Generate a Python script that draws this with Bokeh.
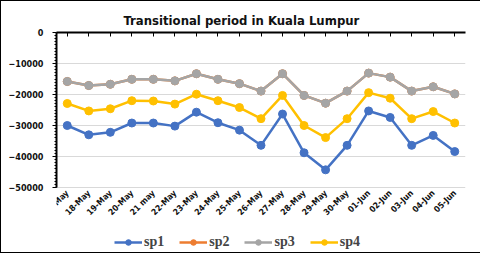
from math import pi
from bokeh.plotting import figure
from bokeh.models import (FactorRange, Range1d, CategoricalAxis, LinearAxis, Legend, LegendItem,
                          SingleIntervalTicker, FixedTicker, Title)
from bokeh.embed import file_html
from bokeh.resources import INLINE

dates = ["17-May", "18-May", "19-May", "20-May", "21 may", "22-May", "23-May", "24-May",
         "25-May", "26-May", "27-May", "28-May", "29-May", "30-May", "01-Jun", "02-Jun",
         "03-Jun", "04-Jun", "05-Jun"]
sp1 = [-30000, -33000, -32200, -29200, -29200, -30200, -25700, -29100, -31500, -36400,
       -26300, -38800, -44300, -36400, -25300, -27400, -36400, -33200, -38400]
sp3 = [-15800, -17100, -16700, -15100, -15100, -15600, -13300, -15100, -16500, -18900,
       -13300, -20300, -22800, -18900, -13100, -14400, -18900, -17500, -19800]
sp2 = list(sp3)
sp4 = [-22900, -25300, -24600, -22000, -22100, -23100, -19900, -22000, -24200, -27800,
       -20300, -30000, -33900, -27800, -19400, -21200, -27800, -25500, -29200]
series = [("sp1", sp1, "#4472C4"), ("sp2", sp2, "#ED7D31"),
          ("sp3", sp3, "#A5A5A5"), ("sp4", sp4, "#FFC000")]
yticks = [0, -10000, -20000, -30000, -40000, -50000]
y_min, y_max = -50000, 0

COND = "DejaVu Sans Condensed"

# the plotted value band (0 .. -50000) occupies the top 155 px of a 220 px frame;
# the lower part of the frame holds the legend
FRAME_H, DATA_H = 220, 155
y_start = y_min * FRAME_H / DATA_H

p = figure(frame_width=409, frame_height=FRAME_H, output_backend="svg", toolbar_location=None,
           x_range=FactorRange(factors=dates, range_padding=0),
           y_range=Range1d(y_start, y_max),
           min_border_left=55, min_border_right=16, min_border_top=31, min_border_bottom=0,
           x_axis_location=None, y_axis_location=None)
p.outline_line_color = None
p.background_fill_color = "white"
p.border_fill_color = "white"
p.styles = {"border": "1px solid black", "box-sizing": "border-box"}

p.title = Title(text="Transitional period in Kuala Lumpur", align="left",
                text_font=COND, text_font_size="13px", text_font_style="bold",
                text_color="#111111", offset=67, standoff=9)

yax = LinearAxis(ticker=SingleIntervalTicker(interval=10000, num_minor_ticks=10),
                 bounds=(y_min, y_max))
yax.axis_line_width = 2
yax.axis_line_color = "black"
yax.major_tick_line_color = "black"
yax.major_tick_out = 4
yax.major_tick_in = 0
yax.minor_tick_out = 2
yax.minor_tick_in = 0
yax.minor_tick_line_color = "black"
yax.major_label_text_font = COND
yax.major_label_text_font_style = "bold"
yax.major_label_text_font_size = "9px"
yax.major_label_text_color = "#111111"
yax.major_label_standoff = 9
p.add_layout(yax, "left")

top = CategoricalAxis()
top.axis_line_width = 2
top.axis_line_color = "black"
top.major_tick_in = 4
top.major_tick_out = 0
top.major_tick_line_color = "black"
top.major_label_text_font_size = "0px"
top.major_label_text_color = None
top.major_label_standoff = 0
p.add_layout(top, "above")

bot = CategoricalAxis(fixed_location=y_min)
bot.axis_line_color = None
bot.major_tick_line_color = None
bot.major_tick_out = 0
bot.major_label_orientation = pi / 4
bot.major_label_text_font = COND
bot.major_label_text_font_style = "bold"
bot.major_label_text_font_size = "8.5px"
bot.major_label_text_color = "#111111"
bot.major_label_standoff = 4
p.add_layout(bot, "below")

p.xgrid.visible = False
p.ygrid.grid_line_color = "#d9d9d9"
p.ygrid.ticker = FixedTicker(ticks=yticks)

items = []
for name, vals, col in series:
    r1 = p.line(dates, vals, line_color=col, line_width=2.5)
    r2 = p.scatter(dates, vals, size=8, fill_color=col, line_color=col)
    items.append(LegendItem(label=name, renderers=[r1, r2]))

leg = Legend(items=items, orientation="horizontal", location=(58, 2),
             label_text_font="Liberation Serif", label_text_font_style="bold",
             label_text_font_size="14px", glyph_width=28, glyph_height=14,
             spacing=15, padding=0, margin=0, border_line_color=None,
             background_fill_alpha=0, label_standoff=2)
p.add_layout(leg, "center")

open("out.html", "w").write(file_html(p, INLINE))
